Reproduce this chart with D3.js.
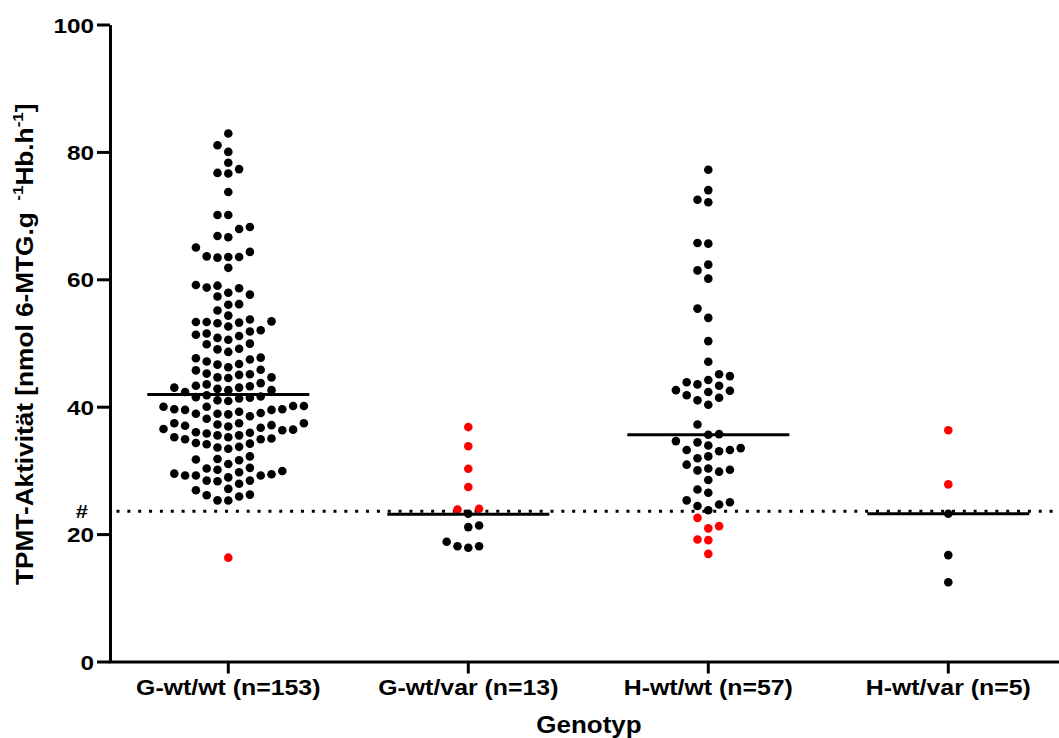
<!DOCTYPE html>
<html><head><meta charset="utf-8">
<script src="https://cdn.jsdelivr.net/npm/d3@7"></script>
<style>
body{margin:0;background:#fff}
svg{display:block}
text{font-family:"Liberation Sans",Arial,Helvetica,sans-serif;font-weight:bold;fill:#000}
</style>
</head><body>
<svg id="chart" width="1059" height="738"></svg>
<script>
// ---------- data ----------
const categories = ["G-wt/wt (n=153)", "G-wt/var (n=13)", "H-wt/wt (n=57)", "H-wt/var (n=5)"];
const gwtwtBlack = [82.9, 81.05, 80.0, 78.3, 77.3, 76.6, 76.7, 73.7, 70.1, 70.1, 68.2, 67.9, 66.8, 66.6, 65.0, 63.5, 63.4, 63.6, 64.3, 63.5, 61.8,
  59.0, 58.6, 59.1, 58.7, 57.6, 57.3, 57.9, 56.1, 56.0, 55.1, 54.3, 53.4, 53.3, 53.1, 52.6, 53.2, 53.3, 53.7,
  52.0, 51.3, 51.1, 50.5, 50.8, 51.5, 51.8, 49.8, 49.0, 48.6, 49.1, 49.9, 47.6, 47.1, 46.6, 46.7, 47.4, 47.7,
  45.8, 45.2, 45.0, 44.6, 44.5, 44.6, 45.1, 45.7, 46.2, 43.7, 43.3, 43.0, 42.8, 43.0, 43.2, 43.5, 42.6, 42.3, 42.6,
  41.6, 41.4, 41.0, 40.9, 41.3, 41.5, 41.8,
  40.1, 40.0, 39.6, 39.5, 39.2, 38.9, 39.0, 39.6, 39.5, 40.0, 40.1, 38.9, 38.5, 38.1, 38.8,
  37.0, 36.7, 36.4, 37.4, 36.0, 37.4, 35.8, 37.2, 35.5, 37.4, 35.5, 35.9, 36.3, 36.5, 36.9, 37.1,
  35.2, 34.9, 34.3, 34.1, 33.6, 33.4, 33.7, 34.2, 34.9, 35.0, 35.2,
  32.2, 31.7, 31.0, 31.6, 31.8,
  30.3, 29.7, 29.5, 29.2, 28.4, 29.2, 28.3, 28.9, 29.2, 27.9, 29.4, 28.4, 29.9, 30.1, 30.4,
  26.89, 26.1, 25.3, 27.1, 25.27, 25.9, 26.2];
const gwtwtRed = [16.3];
const gwtvarBlack = [23.2, 21.35, 21.1, 18.1, 17.85, 18.1, 18.8];
const gwtvarRed = [36.8, 33.8, 30.25, 27.4, 23.97, 23.86];
const hwtwtBlack = [77.2, 74.0, 72.5, 72.1, 65.7, 65.6, 62.3, 61.4, 60.1, 55.4, 53.95, 50.3, 47.05,
  44.8, 45.1, 44.2, 43.5, 43.3, 43.85, 42.6, 42.3, 42.5, 41.8, 41.0, 41.4, 40.3,
  37.2, 35.6, 35.7, 34.4, 34.6, 33.5, 33.9, 33.2, 33.0, 33.2, 32.2, 31.9, 30.9,
  30.1, 29.8, 30.0, 30.3, 28.5, 26.5, 27.0, 25.0, 24.4, 23.75, 24.65, 25.3];
const hwtwtRed = [22.55, 20.9, 21.25, 19.15, 19.05, 16.9];
const hwtvarBlack = [23.2, 16.7, 12.45];
const hwtvarRed = [36.3, 27.8];
const medians = [41.9, 23.1, 35.6, 23.2];
const threshold = 23.6;
const yTicks = [0, 20, 40, 60, 80, 100];
const yTitleMain = "TPMT-Aktivität [nmol 6-MTG.g";
const xTitle = "Genotyp";
const thresholdMark = "#";

const groups = [
  {black: gwtwtBlack, red: gwtwtRed},
  {black: gwtvarBlack, red: gwtvarRed},
  {black: hwtwtBlack, red: hwtwtRed},
  {black: hwtvarBlack, red: hwtvarRed}
];

// ---------- chart ----------
const svg = d3.select("#chart");
const x = d3.scaleBand().domain(categories).range([108.3, 1068.3]).padding(0);
const y = d3.scaleLinear().domain([0, 100]).range([661.5, 24.5]);
const cx = c => x(c) + x.bandwidth() / 2;

const SLOT = 10.8, R = 4.3, T = 10.6;

function swarm(points) {
  const sorted = points.slice().sort((a, b) => a.v - b.v);
  const placed = [];
  sorted.forEach(p => {
    const py = y(p.v);
    const free = k => !placed.some(q => q.k === k && Math.abs(q.py - py) < T);
    let k = 0;
    if (!free(0)) {
      for (let m = 1; m < 60; m++) {
        const fl = free(-m), fr = free(m);
        if (fl && fr) {
          const near = placed.filter(q => Math.abs(q.py - py) < 2 * T);
          const nl = near.filter(q => q.k < 0).length;
          const nr = near.filter(q => q.k > 0).length;
          k = nr < nl ? m : -m; break;
        } else if (fl) { k = -m; break; }
        else if (fr) { k = m; break; }
      }
    }
    p.k = k; p.py = py; placed.push(p);
  });
  return placed;
}

// threshold dotted line
svg.append("line")
  .attr("x1", 116.5).attr("x2", 1059)
  .attr("y1", y(threshold)).attr("y2", y(threshold))
  .attr("stroke", "#000").attr("stroke-width", 3)
  .attr("stroke-dasharray", "3 7.85");

// dots
groups.forEach((g, i) => {
  const pts = g.black.map(v => ({v, red: false})).concat(g.red.map(v => ({v, red: true})));
  const placed = swarm(pts);
  svg.append("g").selectAll("circle").data(placed).join("circle")
    .attr("cx", d => cx(categories[i]) + d.k * SLOT)
    .attr("cy", d => y(d.v))
    .attr("r", R)
    .attr("fill", d => d.red ? "#ff0000" : "#000");
});

// medians
svg.append("g").selectAll("line").data(medians).join("line")
  .attr("x1", (d, i) => cx(categories[i]) - 81)
  .attr("x2", (d, i) => cx(categories[i]) + 81)
  .attr("y1", d => y(d)).attr("y2", d => y(d))
  .attr("stroke", "#000").attr("stroke-width", 3);

// y axis
const yAxis = svg.append("g").attr("transform", "translate(110,0)")
  .call(d3.axisLeft(y).tickValues(yTicks).tickSize(13).tickSizeOuter(0).tickFormat(d3.format("d")));
yAxis.select(".domain").attr("stroke-width", 3);
yAxis.selectAll(".tick line").attr("stroke-width", 3);
yAxis.selectAll(".tick text")
  .attr("x", -16 / 1.16).attr("dy", null).attr("y", 7.5)
  .attr("transform", "scale(1.16,1)")
  .style("font-size", "21px");

// x axis
const xAxis = svg.append("g").attr("transform", `translate(0,${y(0)})`)
  .call(d3.axisBottom(x).tickSize(12).tickSizeOuter(0));
xAxis.select(".domain").attr("stroke-width", 3);
xAxis.selectAll(".tick line").attr("stroke-width", 3);
xAxis.selectAll(".tick text")
  .attr("dy", null).attr("y", 33.5)
  .attr("transform", "scale(1.13,1)")
  .style("font-size", "22px");

// threshold mark
svg.append("text")
  .attr("transform", `translate(88,${y(threshold) + 7}) scale(1.15,1)`)
  .attr("text-anchor", "end").style("font-size", "19px").text(thresholdMark);

// x title
svg.append("text")
  .attr("transform", "translate(589,733) scale(1.13,1)")
  .attr("text-anchor", "middle").style("font-size", "23px").text(xTitle);

// y title
const yt = svg.append("text")
  .attr("transform", "translate(33,585) rotate(-90) scale(1.14,1)")
  .style("font-size", "23px");
yt.append("tspan").text(yTitleMain);
yt.append("tspan").attr("dx", 10).attr("dy", -10).style("font-size", "15px").text("-1");
yt.append("tspan").attr("dy", 10).text("Hb.h");
yt.append("tspan").attr("dy", -10).style("font-size", "15px").text("-1");
yt.append("tspan").attr("dy", 10).text("]");
</script>
</body></html>
